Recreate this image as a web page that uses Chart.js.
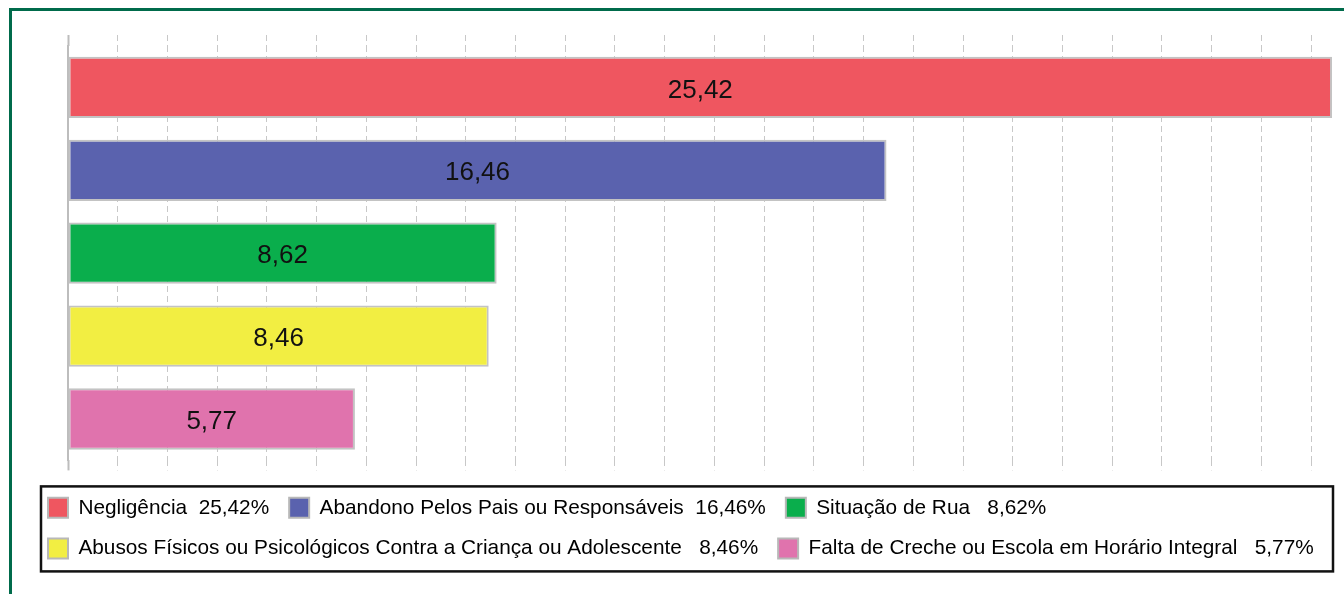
<!DOCTYPE html>
<html lang="pt">
<head>
<meta charset="utf-8">
<title>Motivos de acolhimento</title>
<script src="https://cdn.jsdelivr.net/npm/chart.js@4/dist/chart.umd.min.js"></script>
<style>
  html, body { margin: 0; padding: 0; background: #fff; }
  #wrap { position: relative; width: 1344px; height: 594px; overflow: hidden; }
  #frame {
    position: absolute; left: 9px; top: 8px; width: 1400px; height: 700px;
    border-top: 3px solid #006b4b; border-left: 3px solid #006b4b;
    box-sizing: border-box; pointer-events: none;
  }
  canvas { position: absolute; left: 0; top: 0; }
</style>
</head>
<body>
<div id="wrap">
  <canvas id="motivos" width="1344" height="594"></canvas>
  <div id="frame"></div>
</div>
<script>
/* =========================
   DATA
========================= */
const categories = [
  'Negligência',
  'Abandono Pelos Pais ou Responsáveis',
  'Situação de Rua',
  'Abusos Físicos ou Psicológicos Contra a Criança ou Adolescente',
  'Falta de Creche ou Escola em Horário Integral'
];
const values = [25.42, 16.46, 8.62, 8.46, 5.77];
const legendSpacer = ['  ', '  ', '   ', '   ', '   '];   // gap between name and %
const barColors = ['#ef5660', '#5a62ae', '#0aae4c', '#f2ee42', '#e073ad'];

const FONT = '"Liberation Sans", Arial, Helvetica, sans-serif';
const GRID = '#c8c8c8';

// 25,42 style (comma decimal)
function fmt(v) {
  return v.toFixed(2).replace('.', ',');
}

/* =========================
   PLUGINS
========================= */
// value printed in the middle of each bar
const barValueLabels = {
  id: 'barValueLabels',
  afterDatasetsDraw(chart) {
    const ctx = chart.ctx;
    const meta = chart.getDatasetMeta(0);
    ctx.save();
    ctx.font = '26px ' + FONT;
    ctx.fillStyle = '#111';
    ctx.textAlign = 'center';
    ctx.textBaseline = 'middle';
    meta.data.forEach((bar, i) => {
      ctx.fillText(fmt(values[i]), (bar.x + bar.base) / 2, bar.y + 3);
    });
    ctx.restore();
  }
};

// black frame around the legend
const legendFrame = {
  id: 'legendFrame',
  afterDraw(chart) {
    const lg = chart.legend;
    const ctx = chart.ctx;
    ctx.save();
    ctx.strokeStyle = '#111';
    ctx.lineWidth = 2.5;
    ctx.strokeRect(lg.left + 13, lg.top + 9, lg.right - lg.left - 24, 85);
    ctx.restore();
  }
};

/* =========================
   CHART
========================= */
Chart.defaults.font.family = FONT;

const xRange = { min: 0, max: 25.66 };

new Chart(document.getElementById('motivos').getContext('2d'), {
  type: 'bar',
  data: {
    labels: categories,
    datasets: [{
      data: values,
      backgroundColor: barColors,
      borderColor: '#c3c3c3',
      borderWidth: 2,
      borderSkipped: false,
      categoryPercentage: 1,
      barPercentage: 0.74
    }]
  },
  options: {
    indexAxis: 'y',
    responsive: false,
    animation: false,
    layout: { padding: { left: 28, right: 0, top: 35, bottom: 25 } },
    scales: {
      x: {
        type: 'linear',
        position: 'bottom',
        min: xRange.min,
        max: xRange.max,
        ticks: { display: false, stepSize: 1, includeBounds: false },
        grid: {
          color: GRID,
          lineWidth: 1,
          tickLength: 10,
          tickColor: c => c.index === 0 ? '#bdbdbd' : GRID,
          tickWidth: c => c.index === 0 ? 2 : 1,
          tickBorderDash: c => c.index === 0 ? [] : [6, 4]
        },
        border: { display: false, dash: [6, 4] },
        afterFit: s => { s.height = 17; }
      },
      x2: {
        type: 'linear',
        position: 'top',
        min: xRange.min,
        max: xRange.max,
        ticks: { display: false, stepSize: 1, includeBounds: false },
        grid: {
          drawOnChartArea: false,
          tickLength: 11,
          tickColor: c => c.index === 0 ? '#bdbdbd' : GRID,
          tickWidth: c => c.index === 0 ? 2 : 1,
          tickBorderDash: c => c.index === 0 ? [] : [6, 4]
        },
        border: { display: false }
      },
      y: {
        type: 'category',
        offset: true,
        ticks: { display: false },
        grid: { display: false },
        border: { display: true, color: '#bdbdbd', width: 2 },
        afterFit: s => { s.width = 40; }
      }
    },
    plugins: {
      tooltip: { enabled: false },
      legend: {
        position: 'bottom',
        align: 'start',
        labels: {
          boxWidth: 20,
          boxHeight: 20,
          padding: 20,
          color: '#111',
          font: { size: 20.8, family: FONT },
          generateLabels: () => categories.map((name, i) => ({
            text: name + legendSpacer[i] + fmt(values[i]) + '%',
            fillStyle: barColors[i],
            strokeStyle: '#b8b8b8',
            lineWidth: 2,
            hidden: false,
            index: i,
            datasetIndex: 0
          }))
        }
      }
    }
  },
  plugins: [barValueLabels, legendFrame]
});
</script>
</body>
</html>
